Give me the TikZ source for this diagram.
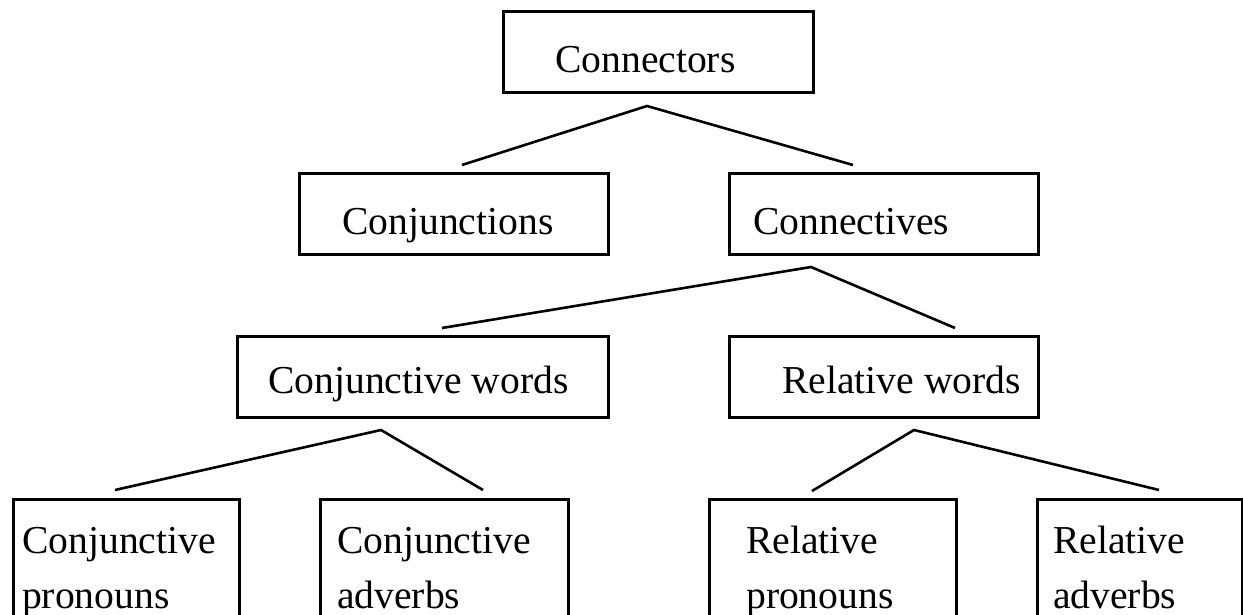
\documentclass[tikz,border=0pt]{standalone}
\usepackage{fontspec}
\setmainfont{Liberation Serif}
\begin{document}
\begin{tikzpicture}[x=1pt,y=-1pt,
  boxnode/.style={draw,line width=2.6pt,rectangle,inner sep=0pt,anchor=north west},
  lbl/.style={anchor=base west,inner sep=0pt,font=\fontsize{39.6}{48}\selectfont},
  link/.style={line width=2.6pt}]
\useasboundingbox (0,0) rectangle (1243,615);
\clip (0,0) rectangle (1243,615);
% boxes
\node[boxnode,minimum width=310pt,minimum height=81pt] (bconn) at (502,10) {};
\node[boxnode,minimum width=309pt,minimum height=81pt] (bconj) at (298,172) {};
\node[boxnode,minimum width=309pt,minimum height=81pt] (bcnt) at (728,172) {};
\node[boxnode,minimum width=371pt,minimum height=81pt] (bcw) at (236,335) {};
\node[boxnode,minimum width=309pt,minimum height=81pt] (brw) at (728,335) {};
\node[boxnode,minimum width=226pt,minimum height=160pt] (bcp) at (12,498) {};
\node[boxnode,minimum width=248pt,minimum height=160pt] (bca) at (319,498) {};
\node[boxnode,minimum width=247pt,minimum height=160pt] (brp) at (708,498) {};
\node[boxnode,minimum width=205pt,minimum height=160pt] (bra) at (1036,498) {};
% texts
\node[lbl] (tconn) at (555,73) {Connectors};
\node[lbl] (tconj) at (342,234) {Conjunctions};
\node[lbl] (tcnt) at (753,234) {Connectives};
\node[lbl] (tcw) at (268,393) {Conjunctive words};
\node[lbl] (trw) at (782,393) {Relative words};
\node[lbl] (tcp1) at (22,553) {Conjunctive};
\node[lbl] (tcp2) at (22,608) {pronouns};
\node[lbl] (tca1) at (337,553) {Conjunctive};
\node[lbl] (tca2) at (337,608) {adverbs};
\node[lbl] (trp1) at (746,553) {Relative};
\node[lbl] (trp2) at (746,608) {pronouns};
\node[lbl] (tra1) at (1053,553) {Relative};
\node[lbl] (tra2) at (1053,608) {adverbs};
% connector points
\coordinate (a1) at (647,106);
\coordinate (a1l) at (462,165);
\coordinate (a1r) at (853,165);
\coordinate (a2) at (811,267);
\coordinate (a2l) at (442,328);
\coordinate (a2r) at (955,328);
\coordinate (a3) at (381,430);
\coordinate (a3l) at (115,490);
\coordinate (a3r) at (483,490);
\coordinate (a4) at (914,430);
\coordinate (a4l) at (812,491);
\coordinate (a4r) at (1159,490);
\draw[link] (a1l) -- (a1) -- (a1r);
\draw[link] (a2l) -- (a2) -- (a2r);
\draw[link] (a3l) -- (a3) -- (a3r);
\draw[link] (a4l) -- (a4) -- (a4r);
\end{tikzpicture}
\end{document}
